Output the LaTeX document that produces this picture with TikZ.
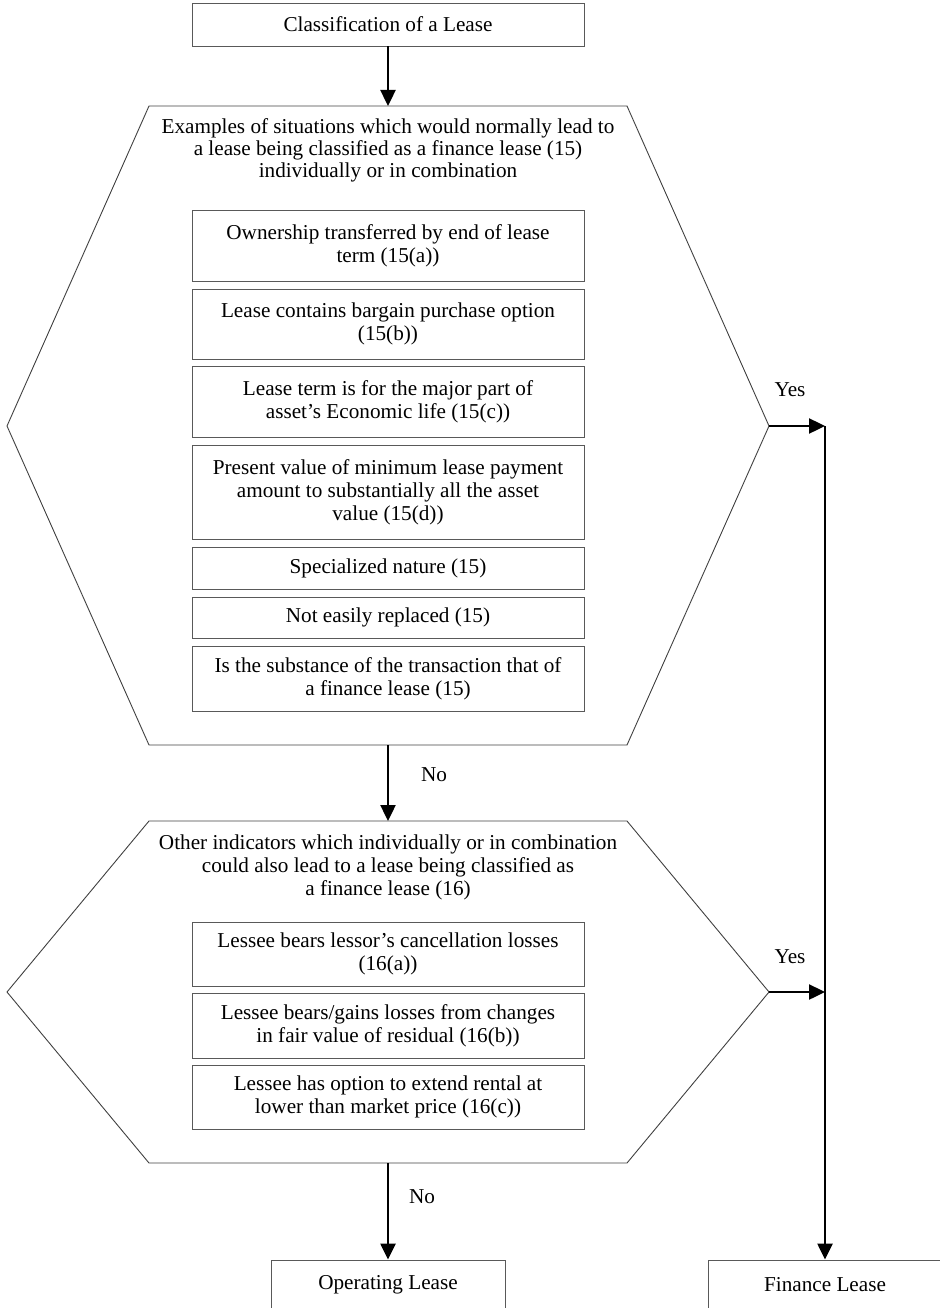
\documentclass[tikz,border=0pt]{standalone}
\usepackage{fontspec}
\setmainfont{Liberation Serif}
\usetikzlibrary{arrows.meta}
\begin{document}
\begin{tikzpicture}[x=1pt,y=-1pt,
  every node/.style={font=\fontsize{21.2}{23}\selectfont},
  box/.style={draw=black!65, line width=0.9pt, align=center, inner sep=0pt, minimum width=392pt},
  endbox/.style={draw=black!65, line width=0.9pt, align=center, inner sep=0pt, minimum width=234pt, minimum height=50pt},
  hex/.style={draw=black!75, line width=0.9pt},
  flow/.style={line width=2.4pt, -{Triangle[length=16pt,width=15pt]}},
  plain/.style={line width=2.4pt},
  lbl/.style={inner sep=0pt}]
\useasboundingbox (0,0) rectangle (939,1308);

% top box
\node[box, minimum height=43pt] (top) at (388,24.5) {Classification of a Lease};

% hexagon 1
\coordinate (h1a) at (149,106);
\coordinate (h1t) at (388,106);
\coordinate (h1c) at (627,106);
\coordinate (h1r) at (769,426);
\coordinate (h1d) at (627,745);
\coordinate (h1b) at (388,745);
\coordinate (h1e) at (149,745);
\coordinate (h1l) at (7,426);
\draw[hex] (h1a) -- (h1c) -- (h1r) -- (h1d) -- (h1e) -- (h1l) -- cycle;
\node[align=center, font=\fontsize{21.2}{22}\selectfont] (t1) at (388,150)
  {Examples of situations which would normally lead to\\a lease being classified as a finance lease (15)\\individually or in combination};

\node[box, minimum height=71pt] (a1) at (388,245.5) {Ownership transferred by end of lease\\term (15(a))};
\node[box, minimum height=70pt] (a2) at (388,324) {Lease contains bargain purchase option\\(15(b))};
\node[box, minimum height=71pt] (a3) at (388,401.5) {Lease term is for the major part of\\asset’s Economic life (15(c))};
\node[box, minimum height=94pt] (a4) at (388,492) {Present value of minimum lease payment\\amount to substantially all the asset\\value (15(d))};
\node[box, minimum height=42pt] (a5) at (388,568) {Specialized nature (15)};
\node[box, minimum height=41pt] (a6) at (388,617.5) {Not easily replaced (15)};
\node[box, minimum height=65pt] (a7) at (388,678.5) {Is the substance of the transaction that of\\a finance lease (15)};

% hexagon 2
\coordinate (h2a) at (149,821);
\coordinate (h2t) at (388,821);
\coordinate (h2c) at (627,821);
\coordinate (h2r) at (769,992);
\coordinate (h2d) at (627,1163);
\coordinate (h2b) at (388,1163);
\coordinate (h2e) at (149,1163);
\coordinate (h2l) at (7,992);
\draw[hex] (h2a) -- (h2c) -- (h2r) -- (h2d) -- (h2e) -- (h2l) -- cycle;
\node[align=center] (t2) at (388,867)
  {Other indicators which individually or in combination\\could also lead to a lease being classified as\\a finance lease (16)};

\node[box, minimum height=64pt] (c1) at (388,954) {Lessee bears lessor’s cancellation losses\\(16(a))};
\node[box, minimum height=65pt] (c2) at (388,1025.5) {Lessee bears/gains losses from changes\\in fair value of residual (16(b))};
\node[box, minimum height=64pt] (c3) at (388,1097) {Lessee has option to extend rental at\\lower than market price (16(c))};

% end boxes
\node[endbox] (op) at (388,1285) {Operating Lease};
\node[endbox] (fin) at (825,1285) {Finance Lease};

% connectors
\coordinate (j1) at (825,426);
\coordinate (j2) at (825,992);
\draw[flow] (top.south) -- (h1t);
\draw[flow] (h1b) -- (h2t);
\draw[flow] (h2b) -- (op.north);
\draw[flow] (h1r) -- (j1);
\draw[flow] (j1) -- (fin.north);
\draw[flow] (h2r) -- (j2);

% labels
\node[lbl] (y1) at (790,390) {Yes};
\node[lbl] (y2) at (790,957) {Yes};
\node[lbl] (n1) at (434,775) {No};
\node[lbl] (n2) at (422,1197) {No};
\end{tikzpicture}
\end{document}
